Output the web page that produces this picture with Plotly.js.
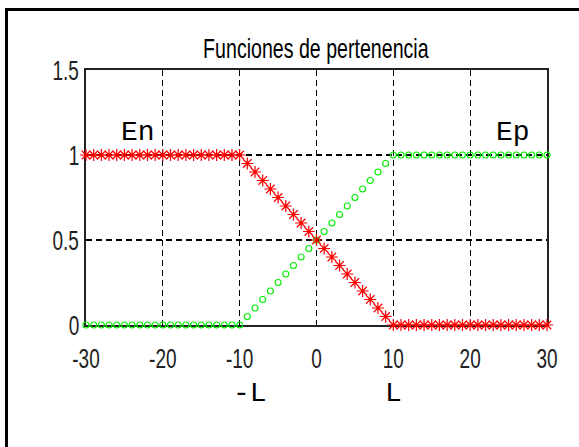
<!DOCTYPE html>
<html>
<head>
<meta charset="utf-8">
<script src="https://cdn.plot.ly/plotly-3.0.1.min.js"></script>
<style>
  html, body { margin: 0; padding: 0; overflow: hidden; background: #fff; }
  #chart { width: 579px; height: 447px; }
  #frame { position: absolute; left: 5px; top: 8px; width: 700px; height: 600px;
           border-left: 3px solid #000; border-top: 3px solid #000; pointer-events: none; }
</style>
</head>
<body>
<div id="chart"></div>
<div id="frame"></div>
<script>
// Universe of discourse (error)
const errorX = [-30,-29,-28,-27,-26,-25,-24,-23,-22,-21,-20,-19,-18,-17,-16,-15,-14,-13,-12,-11,-10,
                -9,-8,-7,-6,-5,-4,-3,-2,-1,0,1,2,3,4,5,6,7,8,9,
                10,11,12,13,14,15,16,17,18,19,20,21,22,23,24,25,26,27,28,29,30];
// Negative error membership (En)
const enValues = [1,1,1,1,1,1,1,1,1,1,1,1,1,1,1,1,1,1,1,1,1,
                  0.95,0.9,0.85,0.8,0.75,0.7,0.65,0.6,0.55,0.5,0.45,0.4,0.35,0.3,0.25,0.2,0.15,0.1,0.05,
                  0,0,0,0,0,0,0,0,0,0,0,0,0,0,0,0,0,0,0,0,0];
// Positive error membership (Ep)
const epValues = [0,0,0,0,0,0,0,0,0,0,0,0,0,0,0,0,0,0,0,0,0,
                  0.05,0.1,0.15,0.2,0.25,0.3,0.35,0.4,0.45,0.5,0.55,0.6,0.65,0.7,0.75,0.8,0.85,0.9,0.95,
                  1,1,1,1,1,1,1,1,1,1,1,1,1,1,1,1,1,1,1,1,1];
const xTicks = [-30,-20,-10,0,10,20,30];
const yTicks = [0,0.5,1,1.5];
const yTickText = ["0", "0.5", "1", "1.5"];
const titleText = "Funciones de pertenencia";
const seriesLabels = ["En", "Ep"];
const boundLabels = ["-L", "L"];

const sans = "Liberation Sans, Arial, sans-serif";
const mono = "Liberation Mono, DejaVu Sans Mono, Courier New, monospace";

const traces = [
  {
    x: errorX, y: epValues, type: "scatter", mode: "markers", name: seriesLabels[1],
    cliponaxis: false,
    marker: { symbol: "circle-open", size: 6, color: "rgb(0,240,0)", line: { color: "rgb(0,240,0)", width: 1.1 } }
  },
  {
    x: errorX, y: enValues, type: "scatter", mode: "markers", name: seriesLabels[0],
    cliponaxis: false,
    marker: { symbol: "asterisk-open", size: 10, color: "rgb(255,0,0)", line: { color: "rgb(255,0,0)", width: 1.2 } }
  }
];

const layout = {
  width: 579, height: 447,
  margin: { l: 86, r: 32, t: 70, b: 122 },
  paper_bgcolor: "#fff", plot_bgcolor: "#fff",
  showlegend: false,
  title: {
    text: titleText,
    font: { family: sans, size: 20, color: "#000" },
    x: 0.5455, xanchor: "center", xref: "container",
    y: 0.893, yanchor: "middle", yref: "container"
  },
  xaxis: {
    range: [-30, 30], tickvals: xTicks, ticktext: xTicks.map(String),
    showgrid: true, gridcolor: "#000", gridwidth: 1.3, griddash: "6px,4px",
    zeroline: false, showline: true, linecolor: "#222", linewidth: 2, mirror: true,
    ticks: "outside", ticklen: 14, tickcolor: "rgba(0,0,0,0)",
    tickfont: { family: sans, size: 20, color: "#222" },
    layer: "below traces", fixedrange: true
  },
  yaxis: {
    range: [0, 1.5], tickvals: yTicks, ticktext: yTickText,
    showgrid: true, gridcolor: "#000", gridwidth: 1.3, griddash: "6px,4px",
    zeroline: false, showline: true, linecolor: "#222", linewidth: 2, mirror: true,
    ticks: "outside", ticklen: 0.5, tickcolor: "rgba(0,0,0,0)",
    tickfont: { family: sans, size: 20, color: "#222" },
    layer: "below traces", fixedrange: true
  },
  annotations: [
    { text: seriesLabels[0], x: -23.2, y: 1.135, xref: "x", yref: "y", showarrow: false,
      xanchor: "center", yanchor: "middle", font: { family: mono, size: 28, color: "#000" } },
    { text: seriesLabels[1], x: 25.6, y: 1.135, xref: "x", yref: "y", showarrow: false,
      xanchor: "center", yanchor: "middle", font: { family: mono, size: 28, color: "#000" } },
    { text: boundLabels[0], x: -8.6, y: -0.27, xref: "x", yref: "paper", showarrow: false,
      xanchor: "center", yanchor: "middle", font: { family: mono, size: 28, color: "#000" } },
    { text: boundLabels[1], x: 10, y: -0.27, xref: "x", yref: "paper", showarrow: false,
      xanchor: "center", yanchor: "middle", font: { family: mono, size: 28, color: "#000" } }
  ]
};

function stretchText(sel, sx, sy) {
  document.querySelectorAll(sel).forEach(function (el) {
    const bb = el.getBBox();
    const cx = bb.x + bb.width / 2, cy = bb.y + bb.height / 2;
    const old = el.getAttribute("transform") || "";
    el.setAttribute("transform", old + " translate(" + cx + "," + cy + ") scale(" + sx + "," + sy +
      ") translate(" + (-cx) + "," + (-cy) + ")");
  });
}

Plotly.newPlot("chart", traces, layout, { displayModeBar: false, staticPlot: true }).then(function () {
  stretchText("#chart .xtick text, #chart .ytick text", 0.95, 1.4);
  stretchText("#chart .gtitle", 0.98, 1.4);
});
</script>
</body>
</html>
